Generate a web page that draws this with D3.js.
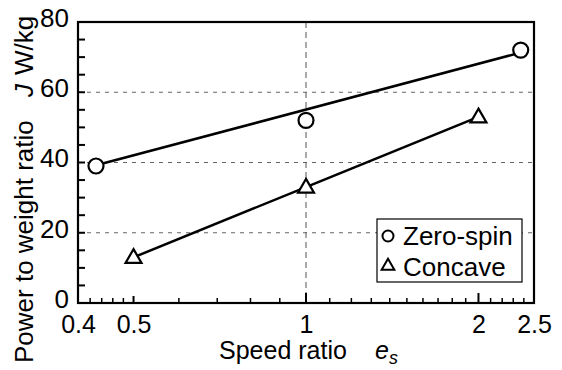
<!DOCTYPE html>
<html>
<head>
<meta charset="utf-8">
<script src="https://cdn.jsdelivr.net/npm/d3@7"></script>
<style>
  body { margin: 0; background: #fff; }
  svg { font-family: "Liberation Sans", Arial, sans-serif; }
</style>
</head>
<body>
<svg id="chart" width="562" height="370"></svg>
<script>
// data
const zeroSpinX = [0.43, 1, 2.37];
const zeroSpinY = [39, 52, 72];
const concaveX = [0.5, 1, 2];
const concaveY = [13, 33, 53];
// straight fit drawn through the zero-spin points
const zeroFitX = [0.43, 2.37];
const zeroFitY = [39.2, 71.3];

const xTickLabels = [0.4, 0.5, 1, 2, 2.5];
const xMinor = [0.42, 0.44, 0.46, 0.48, 0.6, 0.7, 0.8, 0.9,
  1.1, 1.2, 1.3, 1.4, 1.5, 1.6, 1.7, 1.8, 1.9, 2.1, 2.2, 2.3, 2.4];
const xMajor = [0.5, 1, 2];
const yTickLabels = [0, 20, 40, 60, 80];
const yMinor = [5, 10, 15, 20, 25, 30, 35, 40, 45, 50, 55, 60, 65, 70, 75];
const yGrid = [20, 40, 60];
const xGrid = [1];

const svg = d3.select("#chart");
const plotL = 78, plotR = 534, plotT = 22, plotB = 303;

const x = d3.scaleLog().domain([0.4, 2.5]).range([plotL, plotR]);
const y = d3.scaleLinear().domain([0, 80]).range([plotB, plotT]);

// grid lines
svg.selectAll(".hgrid")
  .data(yGrid)
  .enter()
  .append("line")
  .attr("x1", plotL).attr("x2", plotR)
  .attr("y1", (d) => y(d)).attr("y2", (d) => y(d))
  .attr("stroke", "#666")
  .attr("stroke-width", 1)
  .attr("stroke-dasharray", "4,5");

svg.selectAll(".vgrid")
  .data(xGrid)
  .enter()
  .append("line")
  .attr("x1", (d) => x(d)).attr("x2", (d) => x(d))
  .attr("y1", plotT).attr("y2", plotB)
  .attr("stroke", "#555")
  .attr("stroke-width", 1)
  .attr("stroke-dasharray", "6,4");

// axes (labels only; ticks drawn inward)
const xAxis = d3.axisBottom(x)
  .tickValues(xTickLabels)
  .tickFormat((d) => String(d))
  .tickSize(0)
  .tickPadding(12);
svg.append("g")
  .attr("transform", `translate(0,${plotB})`)
  .call(xAxis)
  .call((g) => g.select(".domain").remove())
  .selectAll("text")
  .attr("font-size", 25)
  .attr("fill", "#000");

const yAxis = d3.axisLeft(y)
  .tickValues(yTickLabels)
  .tickSize(0)
  .tickPadding(9);
svg.append("g")
  .attr("transform", `translate(${plotL},0)`)
  .call(yAxis)
  .call((g) => g.select(".domain").remove())
  .selectAll("text")
  .attr("font-size", 26)
  .attr("dy", "0.17em")
  .attr("fill", "#000");

// inward ticks
svg.selectAll(".xminor")
  .data(xMinor)
  .enter()
  .append("line")
  .attr("x1", (d) => x(d)).attr("x2", (d) => x(d))
  .attr("y1", plotB).attr("y2", plotB - 5)
  .attr("stroke", "#000").attr("stroke-width", 1.5);

svg.selectAll(".xmajor")
  .data(xMajor)
  .enter()
  .append("line")
  .attr("x1", (d) => x(d)).attr("x2", (d) => x(d))
  .attr("y1", plotB).attr("y2", (d) => plotB - (d === 0.5 ? 7 : 10))
  .attr("stroke", "#000").attr("stroke-width", 2);

svg.selectAll(".yminor")
  .data(yMinor)
  .enter()
  .append("line")
  .attr("x1", plotL).attr("x2", plotL + 7)
  .attr("y1", (d) => y(d)).attr("y2", (d) => y(d))
  .attr("stroke", "#000").attr("stroke-width", 2);

// frame
svg.append("rect")
  .attr("x", plotL).attr("y", plotT)
  .attr("width", plotR - plotL).attr("height", plotB - plotT)
  .attr("fill", "none")
  .attr("stroke", "#000")
  .attr("stroke-width", 2.2);

// lines
const line = d3.line().x((d) => x(d[0])).y((d) => y(d[1]));
svg.append("path")
  .attr("d", line(d3.zip(zeroFitX, zeroFitY)))
  .attr("fill", "none").attr("stroke", "#000").attr("stroke-width", 2.5);
svg.append("path")
  .attr("d", line(d3.zip(concaveX, concaveY)))
  .attr("fill", "none").attr("stroke", "#000").attr("stroke-width", 2.5);

// markers
const tri = d3.symbol().type(d3.symbolTriangle);
svg.selectAll(".zs")
  .data(d3.zip(zeroSpinX, zeroSpinY))
  .enter()
  .append("circle")
  .attr("cx", (d) => x(d[0])).attr("cy", (d) => y(d[1]))
  .attr("r", 7.5)
  .attr("fill", "#fff").attr("stroke", "#000").attr("stroke-width", 2.2);

svg.selectAll(".cc")
  .data(d3.zip(concaveX, concaveY))
  .enter()
  .append("path")
  .attr("d", tri.size(110)())
  .attr("transform", (d) => `translate(${x(d[0])},${y(d[1]) + 1})`)
  .attr("fill", "#fff").attr("stroke", "#000").attr("stroke-width", 2.2);

// legend
const lg = svg.append("g").attr("transform", "translate(377,219)");
lg.append("rect")
  .attr("width", 145).attr("height", 63)
  .attr("fill", "#fff").attr("stroke", "#000").attr("stroke-width", 1.2);
lg.append("circle")
  .attr("cx", 11).attr("cy", 17).attr("r", 5.5)
  .attr("fill", "#fff").attr("stroke", "#000").attr("stroke-width", 2);
lg.append("path")
  .attr("d", tri.size(70)())
  .attr("transform", "translate(11,47)")
  .attr("fill", "#fff").attr("stroke", "#000").attr("stroke-width", 2);
lg.append("text").attr("x", 26).attr("y", 26)
  .attr("font-size", 26).text("Zero-spin");
lg.append("text").attr("x", 26).attr("y", 57)
  .attr("font-size", 26).text("Concave");

// axis titles
const xt = svg.append("text")
  .attr("x", 219).attr("y", 359)
  .attr("font-size", 25);
xt.append("tspan").text("Speed ratio");
xt.append("tspan").attr("x", 375).attr("font-style", "italic").text("e");
xt.append("tspan").attr("font-style", "italic").attr("font-size", 18)
  .attr("dy", 5).text("s");

const yt = svg.append("text")
  .attr("transform", "translate(33,363) rotate(-90)")
  .attr("font-size", 26);
yt.append("tspan").text("Power to weight ratio");
yt.append("tspan").attr("x", 266).attr("font-style", "italic").text("J");
yt.append("tspan").attr("x", 288).text("W/kg");
</script>
</body>
</html>
